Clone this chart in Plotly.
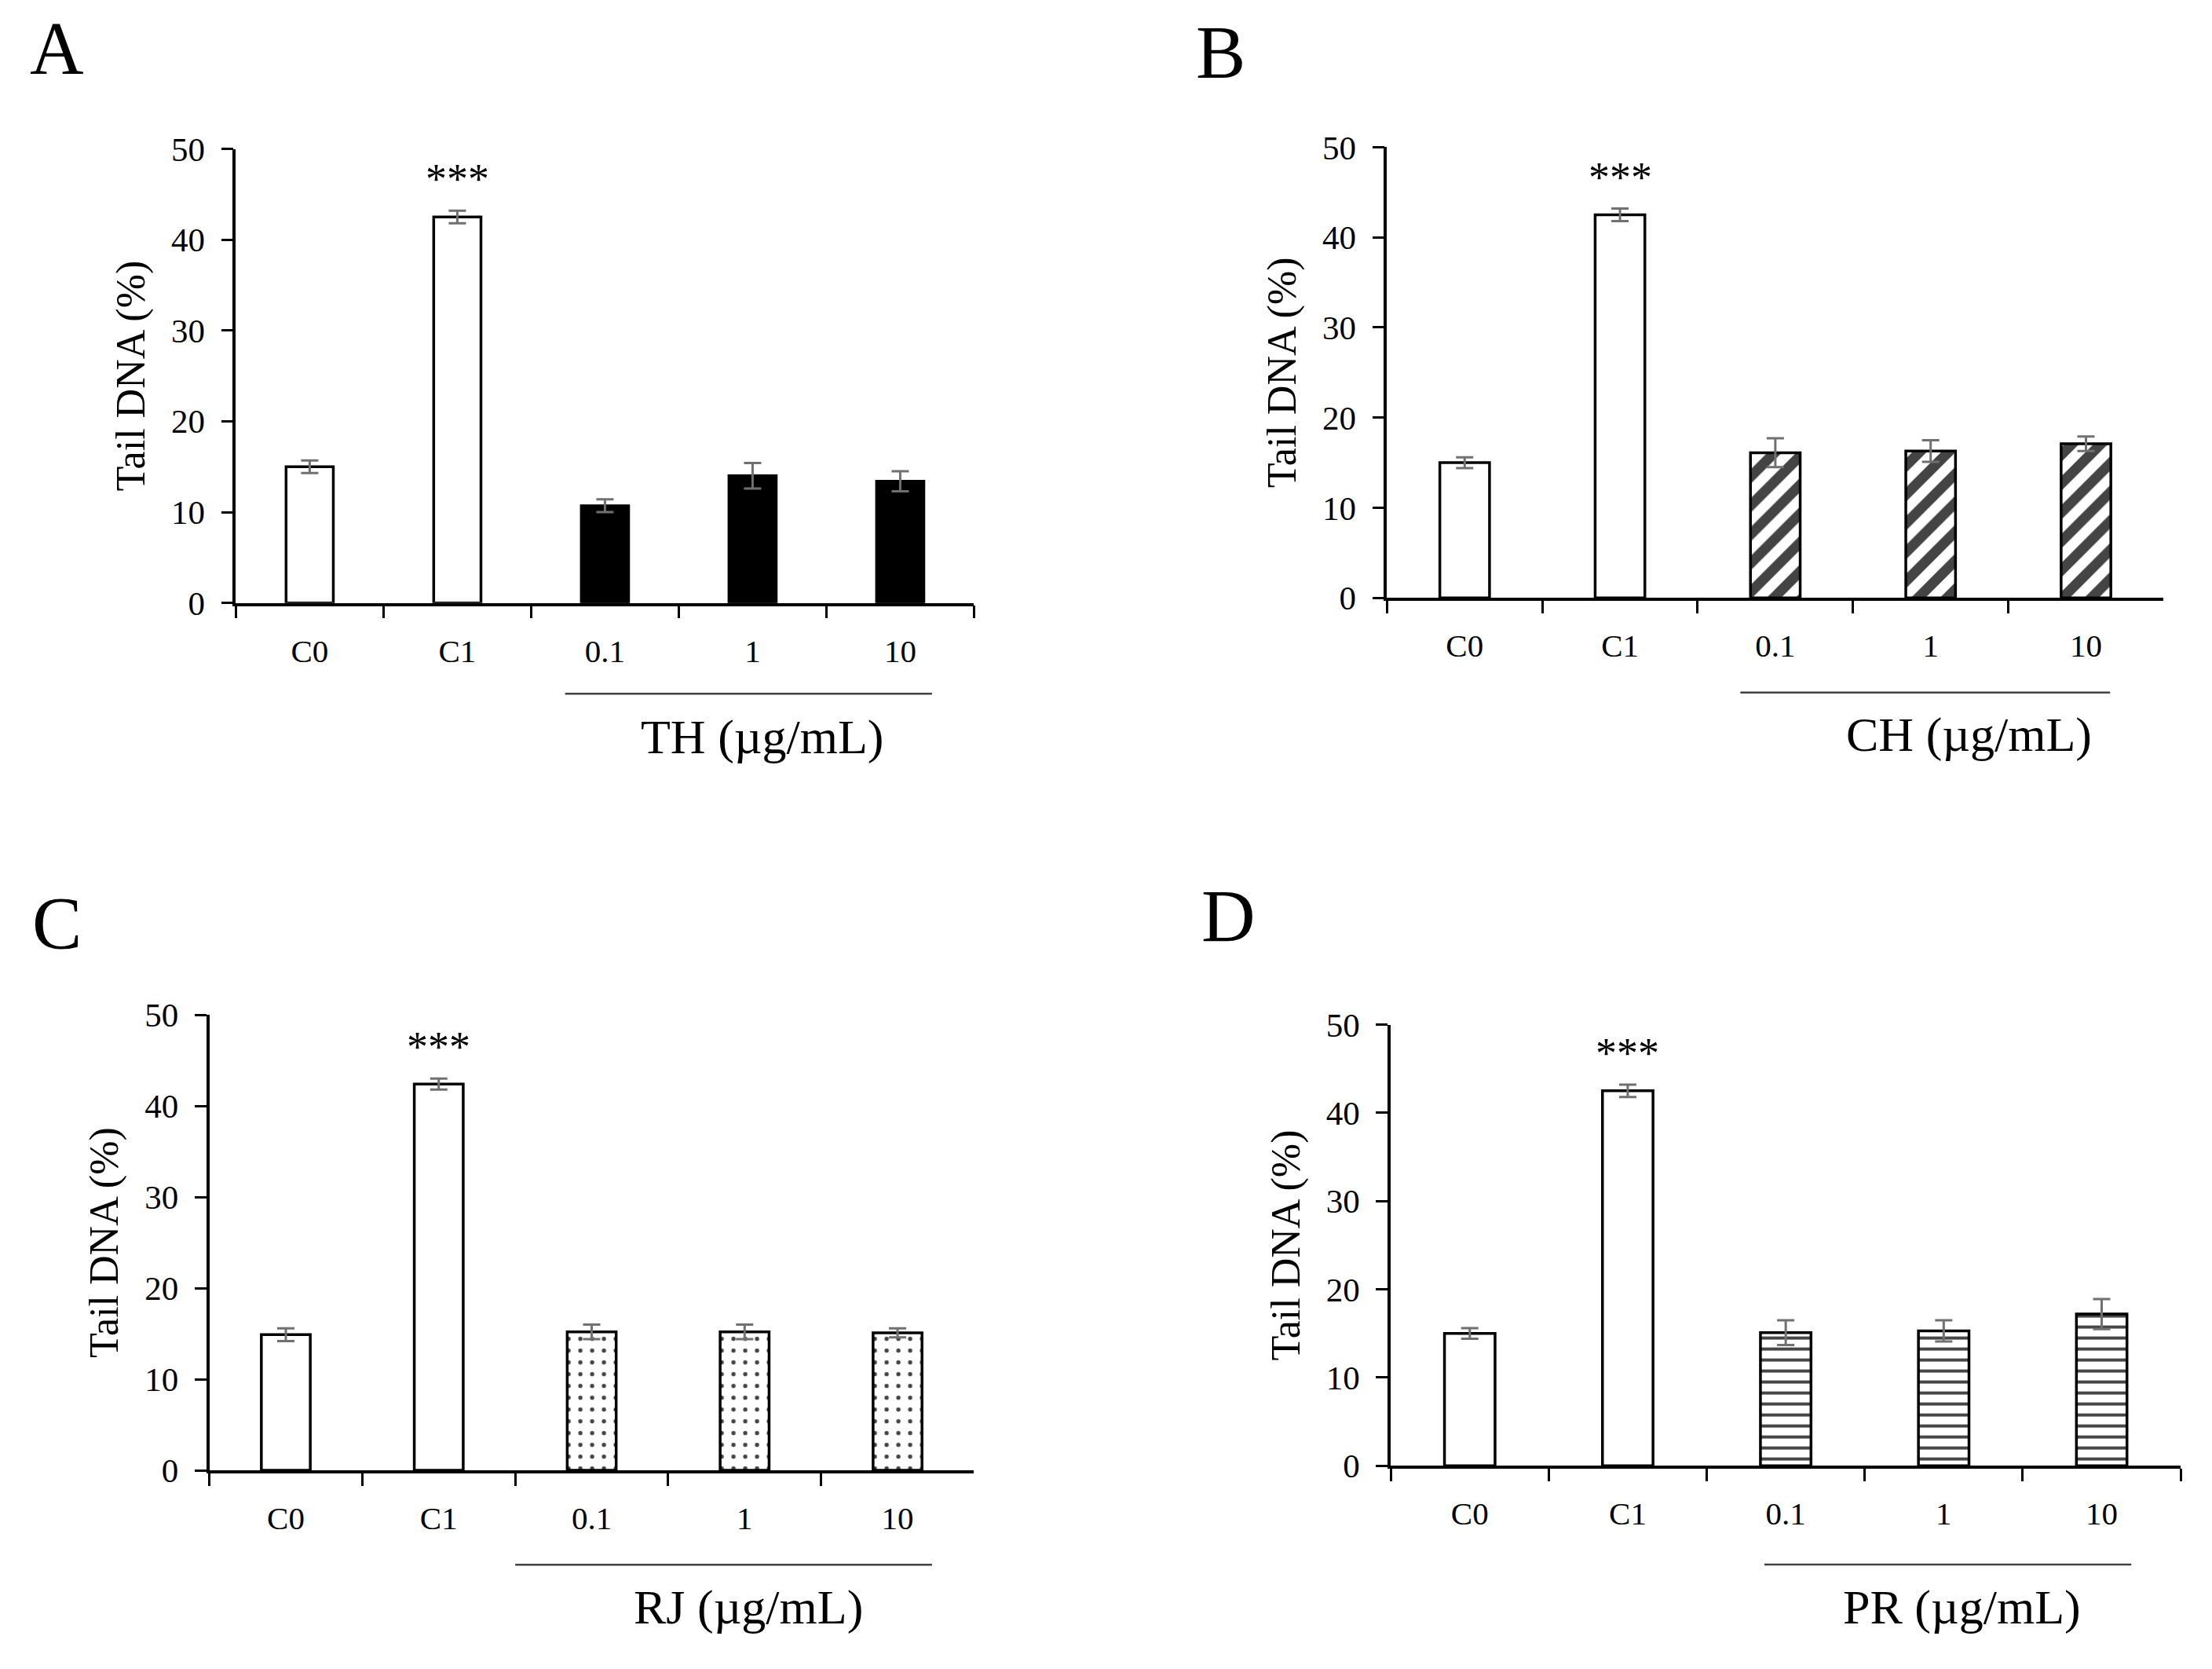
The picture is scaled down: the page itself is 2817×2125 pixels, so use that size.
""" Comet assay: tail DNA for the four extracts (panels A-D)

"""
import plotly.graph_objects as go

categories = ['C0', 'C1', '0.1', '1', '10']

th_values = [15.0, 42.5, 10.7, 14.0, 13.4]
th_errors = [0.7, 0.7, 0.7, 1.4, 1.1]

ch_values = [15.0, 42.5, 16.1, 16.3, 17.1]
ch_errors = [0.6, 0.7, 1.6, 1.2, 0.8]

rj_values = [14.9, 42.4, 15.2, 15.2, 15.1]
rj_errors = [0.7, 0.6, 0.8, 0.8, 0.5]

pr_values = [15.0, 42.5, 15.1, 15.3, 17.2]
pr_errors = [0.6, 0.7, 1.4, 1.2, 1.7]

panel_letters = ['A', 'B', 'C', 'D']
extract_names = ['TH', 'CH', 'RJ', 'PR']
significance = ['', '***', '', '', '']

FONT = 'Liberation Serif'
ERR_COLOR = '#707070'

domains = [
    (0.1038, 0.4375, 0.6455, 0.9237),
    (0.6242, 0.9753, 0.6486, 0.9247),
    (0.0918, 0.4375, 0.1140, 0.3931),
    (0.6259, 0.9830, 0.1168, 0.3871),
]
# underline (x0, x1, y) and group label (x, y) in axis-domain coords
underlines = [(0.446, 0.943, -0.20), (0.455, 0.931, -0.21), (0.40, 0.945, -0.207), (0.473, 0.9375, -0.224)]
group_labels = [(0.713, -0.295), (0.749, -0.304), (0.705, -0.30), (0.723, -0.32)]
letter_pos = [(0.0228, 0.985), (0.549, 0.9825), (0.0228, 0.449), (0.5525, 0.4535)]


def bar_trace(values, errors, idx, style):
    n = len(values)
    colors = ['white', 'white'] + ['black' if style == 'solid' else 'white'] * (n - 2)
    shape = {'solid': '', 'diag': '/', 'dots': '.', 'hlines': '-'}[style]
    size = {'solid': 8, 'diag': 26, 'dots': 15, 'hlines': 14}[style]
    solidity = {'solid': 0.3, 'diag': 0.5, 'dots': 0.1, 'hlines': 0.28}[style]
    suffix = '' if idx == 0 else str(idx + 1)
    return go.Bar(
        x=categories, y=values,
        xaxis='x' + suffix, yaxis='y' + suffix,
        width=0.32,
        marker=dict(color=colors, line=dict(color='black', width=3.5),
                    pattern=dict(shape=['', ''] + [shape] * (n - 2), fgcolor='black', fgopacity=1,
                                 size=size, solidity=solidity)),
        error_y=dict(type='data', array=errors, color=ERR_COLOR, thickness=3, width=11),
        showlegend=False,
    )


fig = go.Figure()
panel_data = [(th_values, th_errors, 'solid'), (ch_values, ch_errors, 'diag'),
              (rj_values, rj_errors, 'dots'), (pr_values, pr_errors, 'hlines')]
for i, (vals, errs, style) in enumerate(panel_data):
    fig.add_trace(bar_trace(vals, errs, i, style))

layout = dict(
    width=2817, height=2125,
    margin=dict(l=0, r=0, t=0, b=0),
    paper_bgcolor='white', plot_bgcolor='white',
    font=dict(family=FONT, color='black'),
    shapes=[], annotations=[],
)
for i, (x0, x1, y0, y1) in enumerate(domains):
    suffix = '' if i == 0 else str(i + 1)
    layout['xaxis' + suffix] = dict(
        domain=[x0, x1], anchor='y' + suffix, type='category',
        tickson='boundaries', ticks='outside', ticklen=16, tickwidth=3, tickcolor='black',
        showline=True, linecolor='black', linewidth=3.5, showgrid=False,
        tickfont=dict(family=FONT, size=41, color='black'), ticklabelstandoff=22,
        range=[-0.5, 4.5], fixedrange=True,
    )
    layout['yaxis' + suffix] = dict(
        domain=[y0, y1], anchor='x' + suffix, range=[0, 50], dtick=10,
        ticks='outside', ticklen=15, tickwidth=3, tickcolor='black',
        showline=True, linecolor='black', linewidth=3.5, showgrid=False, zeroline=False,
        tickfont=dict(family=FONT, size=43, color='black'), ticklabelstandoff=12,
        title=dict(text='Tail DNA (%)', font=dict(family=FONT, size=52, color='black'), standoff=18),
    )
    # significance stars sit above the error bar
    vals, errs, _ = panel_data[i]
    for cat, v, e, s in zip(categories, vals, errs, significance):
        if s:
            layout['annotations'].append(dict(
                text=s, xref='x' + suffix, yref='y' + suffix, x=cat, y=v + e,
                xanchor='center', yanchor='bottom', yshift=8, showarrow=False,
                font=dict(family=FONT, size=54, color='black'),
            ))
    ux0, ux1, uy = underlines[i]
    layout['shapes'].append(dict(
        type='line', xref='x%s domain' % suffix, yref='y%s domain' % suffix,
        x0=ux0, x1=ux1, y0=uy, y1=uy, line=dict(color='#404040', width=2.5),
    ))
    gx, gy = group_labels[i]
    layout['annotations'].append(dict(
        text=f'{extract_names[i]} (µg/mL)', xref='x%s domain' % suffix, yref='y%s domain' % suffix,
        x=gx, y=gy, xanchor='center', yanchor='middle', showarrow=False,
        font=dict(family=FONT, size=62, color='black'),
    ))
    lx, ly = letter_pos[i]
    layout['annotations'].append(dict(
        text=panel_letters[i], xref='paper', yref='paper', x=lx, y=ly,
        xanchor='center', yanchor='middle', showarrow=False,
        font=dict(family=FONT, size=95, color='black'),
    ))

fig.update_layout(**layout)
fig.write_html("out.html")
